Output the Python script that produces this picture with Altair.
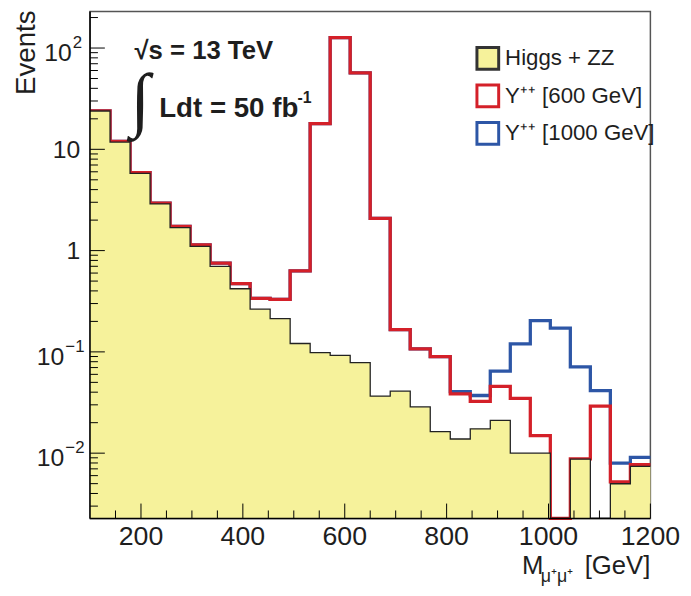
import altair as alt
import numpy as np
import pandas as pd

# ---- data ----
N_BINS = 28
X_MIN, X_MAX = 100, 1200
Y_MIN, Y_MAX = 0.00227, 230.0

# background (Higgs + ZZ), events per bin
bkg = [23.9, 11.8, 5.80, 2.89, 1.69, 1.10, 0.70, 0.42, 0.264, 0.213,
       0.121, 0.0982, 0.0924, 0.0785, 0.0366, 0.0409, 0.0286, 0.0163, 0.0138, 0.0174,
       0.0211, 0.0100, 0.0100, 0.0, 0.00873, 0.0, 0.00499, 0.00741]
# stacked: background + Y++ (600 GeV)
tot600 = [24.0, 12.0, 5.9, 2.94, 1.73, 1.14, 0.752, 0.473, 0.338, 0.330,
          0.631, 17.9, 127.0, 57.0, 2.08, 0.166, 0.107, 0.0897, 0.0385, 0.0324,
          0.0457, 0.0348, 0.0149, 0.0, 0.0088, 0.0292, 0.00521, 0.00769]
# stacked: background + Y++ (600) + Y++ (1000 GeV)
tot1000 = [24.0, 12.0, 5.9, 2.94, 1.73, 1.14, 0.752, 0.473, 0.338, 0.330,
           0.631, 17.9, 127.0, 57.0, 2.08, 0.166, 0.107, 0.0897, 0.0406, 0.0371,
           0.0646, 0.120, 0.204, 0.172, 0.071, 0.0415, 0.00798, 0.00908]

legend_labels = ["Higgs + ZZ", "Y\u207a\u207a [600 GeV]", "Y\u207a\u207a [1000 GeV]"]
x_tick_values = [200, 400, 600, 800, 1000, 1200]
x_tick_labels = ["200", "400", "600", "800", "1000", "1200"]
x_minor_values = [150, 250, 300, 350, 450, 500, 550, 650, 700, 750, 850, 900, 950, 1050, 1100, 1150]
y_tick_values = [0.01, 0.1, 1, 10, 100]
y_tick_base = ["10", "10", "1", "10", "10"]
y_tick_sup = ["\u22122", "\u22121", "", "", "2"]

YELLOW = "#f6f29b"
RED = "#d42029"
BLUE = "#2d56a6"
OUTLINE = "#222222"
TEXT = "#1e1e1e"
FONT = "Liberation Sans"

W, H = 567, 513

edges = np.linspace(X_MIN, X_MAX, N_BINS + 1)
FLOOR = 1e-5


def step_df(vals):
    v = list(vals) + [vals[-1]]
    return pd.DataFrame({"x": edges, "v": [max(a, FLOOR) for a in v]})


xscale = alt.Scale(domain=[X_MIN, X_MAX], nice=False, zero=False)
yscale = alt.Scale(type="log", domain=[Y_MIN, Y_MAX], nice=False, clamp=True)
XQ = lambda f: alt.X(f, type="quantitative", scale=xscale, axis=None)
YQ = lambda f: alt.Y(f, type="quantitative", scale=yscale, axis=None)

blue_line = alt.Chart(step_df(tot1000)).mark_line(
    interpolate="step-after", color=BLUE, strokeWidth=3.3, strokeJoin="miter").encode(x=XQ("x"), y=YQ("v"))

red_line = alt.Chart(step_df(tot600)).mark_line(
    interpolate="step-after", color=RED, strokeWidth=3.3, strokeJoin="miter").encode(x=XQ("x"), y=YQ("v"))

fill = alt.Chart(step_df(bkg)).mark_area(
    interpolate="step-after", color=YELLOW, opacity=1).encode(
    x=XQ("x"), y=YQ("v"), y2=alt.datum(Y_MIN))

outline = alt.Chart(step_df(bkg)).mark_line(
    interpolate="step-after", color=OUTLINE, strokeWidth=1.3, strokeJoin="miter").encode(x=XQ("x"), y=YQ("v"))

# frame: left and bottom axis lines
left_line = alt.Chart(pd.DataFrame({"a": [0]})).mark_rule(color="black", strokeWidth=1.5).encode(
    x=alt.value(0), y=alt.value(0), y2=alt.value(H))
bottom_line = alt.Chart(pd.DataFrame({"a": [0]})).mark_rule(color="black", strokeWidth=1.5).encode(
    x=alt.value(0), x2=alt.value(W), y=alt.value(H))

# inner tick marks
y_minor = [k * 10.0 ** e for e in range(-3, 3) for k in range(2, 10) if Y_MIN <= k * 10.0 ** e <= Y_MAX]
ytick_major = alt.Chart(pd.DataFrame({"t": y_tick_values})).mark_rule(color="black", strokeWidth=1).encode(
    y=YQ("t"), x=alt.value(0), x2=alt.value(15))
ytick_minor = alt.Chart(pd.DataFrame({"t": y_minor})).mark_rule(color="black", strokeWidth=1).encode(
    y=YQ("t"), x=alt.value(0), x2=alt.value(8))
xtick_major = alt.Chart(pd.DataFrame({"t": x_tick_values})).mark_rule(color="black", strokeWidth=1).encode(
    x=XQ("t"), y=alt.value(H), y2=alt.value(H - 15))
xtick_minor = alt.Chart(pd.DataFrame({"t": x_minor_values})).mark_rule(color="black", strokeWidth=1).encode(
    x=XQ("t"), y=alt.value(H), y2=alt.value(H - 8))

# tick labels
x_labels = alt.Chart(pd.DataFrame({"t": x_tick_values, "lab": x_tick_labels})).mark_text(
    font=FONT, fontSize=27, color=TEXT, align="center", baseline="alphabetic").encode(
    x=XQ("t"), y=alt.value(H + 27), text="lab:N")

ylab_df = pd.DataFrame({"t": y_tick_values, "base": y_tick_base, "sup": y_tick_sup})
ylab_plain = alt.Chart(ylab_df).transform_filter("datum.sup == ''").mark_text(
    font=FONT, fontSize=25, color=TEXT, align="right", baseline="alphabetic", dy=9).encode(
    y=YQ("t"), x=alt.value(-10), text="base:N")
ylab_base = alt.Chart(ylab_df).transform_filter("datum.sup != ''").transform_calculate(
    bx="-11 - 7.5 * length(datum.sup)",
).mark_text(font=FONT, fontSize=25, color=TEXT, align="right", baseline="alphabetic", dy=13).encode(
    y=YQ("t"), x=alt.X("bx:Q", scale=None), text="base:N")
ylab_sup = alt.Chart(ylab_df).transform_filter("datum.sup != ''").transform_calculate(
    sx="-10 - 7.5 * length(datum.sup)",
).mark_text(font=FONT, fontSize=17, color=TEXT, align="left", baseline="alphabetic", dy=0).encode(
    y=YQ("t"), x=alt.X("sx:Q", scale=None), text="sup:N")

# legend
leg = alt.Legend(orient="none", legendX=390, legendY=35, padding=0, title=None,
                 symbolType="square", symbolSize=484, symbolStrokeWidth=3,
                 labelFont=FONT, labelFontSize=22.5, labelColor=TEXT, labelOffset=5,
                 rowPadding=3, labelLimit=300)
leg_df = pd.DataFrame({"series": legend_labels})
legend_layer = alt.Chart(leg_df).mark_square(size=0, opacity=1).encode(
    x=alt.value(0), y=alt.value(0),
    fill=alt.Fill("series:N", scale=alt.Scale(domain=legend_labels, range=[YELLOW, "white", "white"]),
                  legend=leg),
    stroke=alt.Stroke("series:N", scale=alt.Scale(domain=legend_labels, range=["#333333", RED, BLUE]),
                      legend=leg),
)

one = pd.DataFrame({"a": [0]})


def txt(text, x, y, size, weight="normal", font=FONT, align="left", angle=0, baseline="alphabetic"):
    return alt.Chart(one).mark_text(text=text, fontSize=size, fontWeight=weight, font=font,
                                    align=align, baseline=baseline, angle=angle, color=TEXT).encode(
        x=alt.value(x), y=alt.value(y))


annot = [
    txt("\u221as = 13 TeV", 45, 48, 26, "bold"),
    txt("\u222b", 41, 113, 72, "normal", font="Liberation Serif"),
    txt("Ldt = 50 fb", 70, 107, 28, "bold"),
    txt("-1", 210, 93, 16, "bold"),
    txt("Events", -56, -1, 28, angle=270, align="right"),
    txt("M", 437, 569, 26),
    txt("\u03bc\u207a\u03bc\u207a", 456, 577, 18),
    txt("[GeV]", 567, 569, 26, align="right"),
]

chart = alt.layer(
    blue_line, red_line, fill, outline,
    left_line, bottom_line,
    ytick_major, ytick_minor, xtick_major, xtick_minor,
    x_labels, ylab_plain, ylab_base, ylab_sup,
    legend_layer, *annot
).properties(
    width=W, height=H,
    padding={"left": 83, "top": 0, "right": 33, "bottom": 67},
    autosize=alt.AutoSizeParams(type="none"),
    background="white",
).configure_view(
    stroke="#555555", strokeWidth=1.5
)

chart.save("out.html", embed_options={"renderer": "svg", "actions": False})
